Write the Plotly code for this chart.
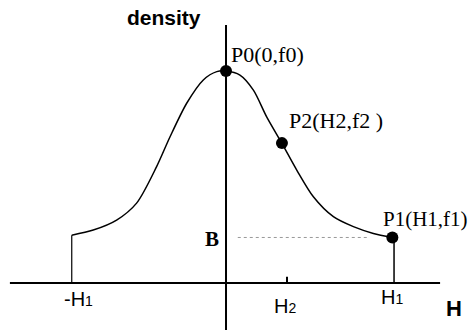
import plotly.graph_objects as go

# Kurvan (H1 = 1, f0 = 1)
curve_x = [-0.918, -0.79, -0.651, -0.532, -0.413, -0.333, -0.234, -0.135, -0.055, 0.0,
           0.083, 0.163, 0.242, 0.332, 0.421, 0.52, 0.639, 0.758, 0.877, 0.99]
curve_y = [0.226, 0.25, 0.297, 0.377, 0.549, 0.69, 0.848, 0.958, 0.997, 1.0,
           0.981, 0.91, 0.784, 0.66, 0.533, 0.407, 0.313, 0.266, 0.234, 0.215]

# Markerade punkter P0, P2, P1
pt_x = [0.0, 0.333, 0.99]
pt_y = [1.0, 0.66, 0.215]
pt_labels = ["P0(0,f0)", "P2(H2,f2 )", "P1(H1,f1)"]

# Axelmarkeringar
H1_left = -0.918
H2 = 0.363
H1 = 1.0
B = 0.215
dot_x = [0.07, 0.85]

x_axis = [-1.286, 1.274]
y_axis = [-0.222, 1.217]

fig = go.Figure()

# x-axel
fig.add_trace(go.Scatter(x=x_axis, y=[0, 0], mode="lines",
                         line=dict(color="black", width=2), hoverinfo="skip"))
# y-axel
fig.add_trace(go.Scatter(x=[0, 0], y=y_axis, mode="lines",
                         line=dict(color="black", width=2), hoverinfo="skip"))
# tick vid H2
fig.add_trace(go.Scatter(x=[H2, H2], y=[0, 0.03], mode="lines",
                         line=dict(color="black", width=2), hoverinfo="skip"))
# vertikala kanter
fig.add_trace(go.Scatter(x=[H1_left, H1_left], y=[0, curve_y[0]], mode="lines",
                         line=dict(color="black", width=1.2), hoverinfo="skip"))
fig.add_trace(go.Scatter(x=[H1, H1], y=[0, pt_y[2]], mode="lines",
                         line=dict(color="black", width=1.5), hoverinfo="skip"))
# streckad linje vid B
fig.add_trace(go.Scatter(x=dot_x, y=[B, B], mode="lines",
                         line=dict(color="#999999", width=1, dash="dot"), hoverinfo="skip"))

# densitetskurvan
fig.add_trace(go.Scatter(x=curve_x, y=curve_y, mode="lines",
                         line=dict(color="black", width=1.5, shape="spline", smoothing=0.8)))

# punkter
fig.add_trace(go.Scatter(x=pt_x, y=pt_y, mode="markers",
                         marker=dict(color="black", size=12)))

serif = dict(family="Liberation Serif", size=22, color="black")
sans = dict(family="Liberation Sans", size=20, color="black")

ann = [
    dict(x=pt_x[0], y=pt_y[0], text=pt_labels[0], xanchor="left", yanchor="middle",
         xshift=3, yshift=17, font=serif),
    dict(x=pt_x[1], y=pt_y[1], text=pt_labels[1], xanchor="left", yanchor="middle",
         xshift=5, yshift=23, font=serif),
    dict(x=pt_x[2], y=pt_y[2], text=pt_labels[2], xanchor="left", yanchor="middle",
         xshift=-11, yshift=18, font=dict(family="Liberation Serif", size=21, color="black")),
    dict(x=0, y=B, text="<b>B</b>", xanchor="right", yanchor="middle",
         xshift=-5, yshift=-2, font=dict(family="Liberation Serif", size=21, color="black")),
    dict(x=H1_left, y=0, text='-H<span style="font-size:14px">1</span>', xanchor="center",
         yanchor="top", xshift=7, yshift=-3, font=sans),
    dict(x=H2, y=0, text='H<span style="font-size:14px">2</span>', xanchor="center",
         yanchor="top", xshift=-2, yshift=-10, font=sans),
    dict(x=H1, y=0, text='H<span style="font-size:14px">1</span>', xanchor="center",
         yanchor="top", xshift=-2, yshift=-1, font=sans),
    dict(x=x_axis[1], y=0, text="<b>H</b>", xanchor="left", yanchor="top",
         xshift=4, yshift=-11, font=dict(family="Liberation Sans", size=22, color="black")),
    dict(x=0, y=y_axis[1], text="<b>density</b>", xanchor="center", yanchor="bottom",
         xshift=-62, yshift=-6, font=dict(family="Liberation Sans", size=21, color="black")),
]
for a in ann:
    a["showarrow"] = False
    fig.add_annotation(**a)

fig.update_layout(
    width=471, height=335,
    margin=dict(l=0, r=0, t=0, b=0),
    plot_bgcolor="white", paper_bgcolor="white",
    showlegend=False,
    xaxis=dict(range=[-1.345, 1.458], visible=False),
    yaxis=dict(range=[-0.245, 1.335], visible=False),
)

fig.write_html("out.html", config={"displayModeBar": False},
               post_script="document.body.style.margin='0';")
